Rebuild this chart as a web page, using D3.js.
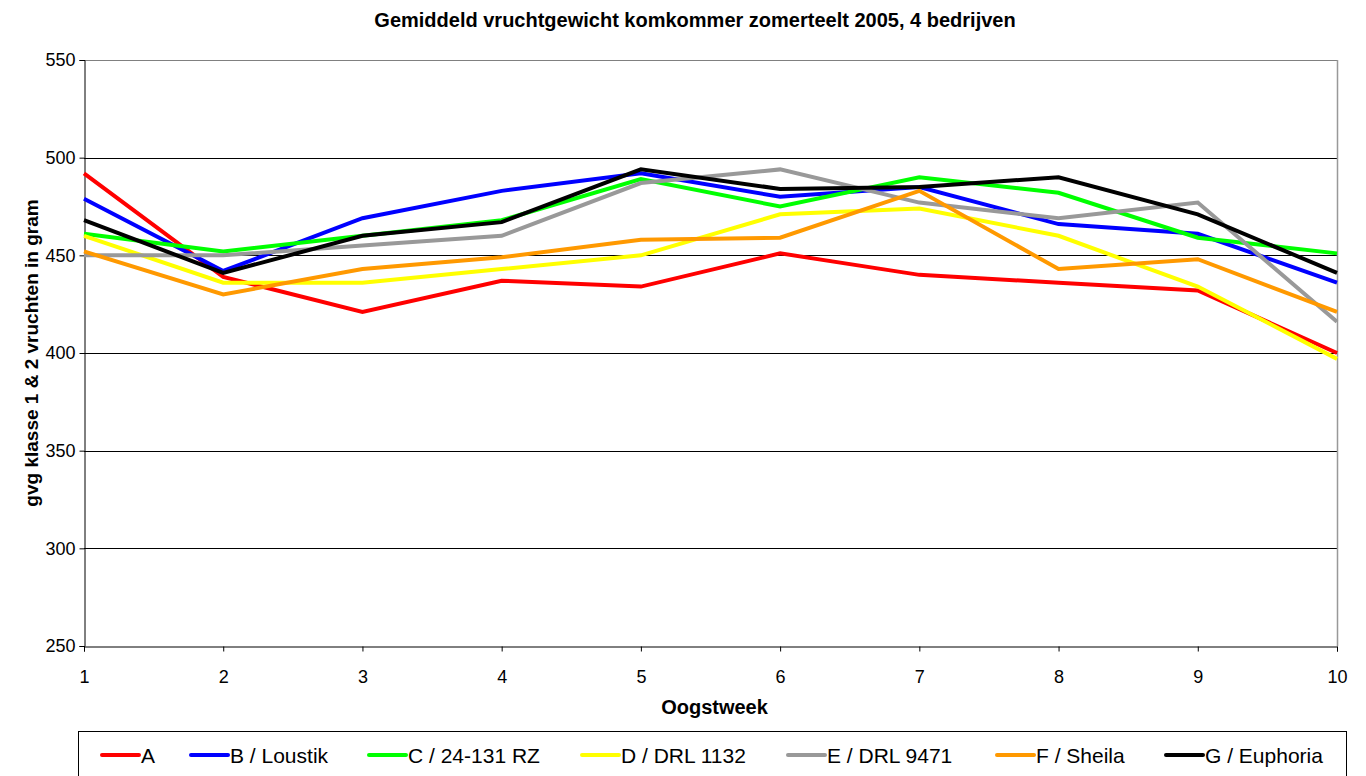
<!DOCTYPE html>
<html>
<head>
<meta charset="utf-8">
<script src="https://cdn.jsdelivr.net/npm/d3@7"></script>
<style>
  body { margin: 0; background: #fff; }
  text { font-family: "Liberation Sans", Arial, sans-serif; }
</style>
</head>
<body>
<div id="chart"></div>
<script>
// weeks and series values (gvg in gram)
var weeks = [1, 2, 3, 4, 5, 6, 7, 8, 9, 10];
var seriesNames = ["A", "B / Loustik", "C / 24-131 RZ", "D / DRL 1132", "E / DRL 9471", "F / Sheila", "G / Euphoria"];
var seriesColors = ["#ff0000", "#0000ff", "#00ff00", "#ffff00", "#999999", "#ff9900", "#000000"];
var valuesA = [492, 439, 421, 437, 434, 451, 440, 436, 432, 400];
var valuesB = [479, 442, 469, 483, 492, 480, 485, 466, 461, 436];
var valuesC = [461, 452, 460, 468, 489, 475, 490, 482, 459, 451];
var valuesD = [460, 436, 436, 443, 450, 471, 474, 460, 434, 397];
var valuesE = [450, 450, 455, 460, 487, 494, 477, 469, 477, 416];
var valuesF = [452, 430, 443, 449, 458, 459, 483, 443, 448, 421];
var valuesG = [468, 441, 460, 467, 494, 484, 485, 490, 471, 441];
var yTicks = [250, 300, 350, 400, 450, 500, 550];

var allValues = [valuesA, valuesB, valuesC, valuesD, valuesE, valuesF, valuesG];

var width = 1366, height = 776;
var margin = { top: 60, right: 29, bottom: 130, left: 84 };
var innerW = width - margin.left - margin.right,
    innerH = height - margin.top - margin.bottom;

var svg = d3.select("#chart").append("svg")
    .attr("width", width)
    .attr("height", height);

var x = d3.scaleLinear().domain([1, 10]).range([margin.left, margin.left + innerW]);
var y = d3.scaleLinear().domain([250, 550]).range([margin.top + innerH, margin.top]);

// title
svg.append("text")
    .attr("x", 695).attr("y", 27)
    .attr("text-anchor", "middle")
    .style("font-weight", "bold").style("font-size", "20px")
    .text("Gemiddeld vruchtgewicht komkommer zomerteelt 2005, 4 bedrijven");

// gridlines
svg.append("g")
    .selectAll("line")
    .data(yTicks.slice(1))
    .join("line")
    .attr("x1", margin.left).attr("x2", margin.left + innerW)
    .attr("y1", d => Math.round(y(d)) + 0.5).attr("y2", d => Math.round(y(d)) + 0.5)
    .attr("stroke", d => d === 550 ? "#808080" : "#000").attr("stroke-width", 1);

// plot border (right side gray)
svg.append("line")
    .attr("x1", margin.left + innerW + 0.5).attr("x2", margin.left + innerW + 0.5)
    .attr("y1", margin.top).attr("y2", margin.top + innerH)
    .attr("stroke", "#999").attr("stroke-width", 1.5);

// axes
var yAxis = svg.append("g")
    .attr("transform", "translate(" + (margin.left + 0.5) + ",0)")
    .call(d3.axisLeft(y).tickValues(yTicks).tickSize(5).tickPadding(4));
var xAxis = svg.append("g")
    .attr("transform", "translate(0," + (Math.round(margin.top + innerH) + 0.5) + ")")
    .call(d3.axisBottom(x).tickValues(weeks).tickSize(5).tickPadding(19).tickFormat(d3.format("d")));

[yAxis, xAxis].forEach(function (a) {
    a.select(".domain").attr("stroke", "#000");
    a.selectAll(".tick line").attr("stroke", "#000");
    a.selectAll(".tick text").style("font-size", "18px").attr("fill", "#000")
        .style("font-family", "'Liberation Sans', Arial, sans-serif");
});

// axis titles
svg.append("text")
    .attr("transform", "translate(38," + (margin.top + innerH / 2) + ") rotate(-90)")
    .attr("text-anchor", "middle")
    .style("font-weight", "bold").style("font-size", "19px")
    .text("gvg klasse 1 & 2 vruchten in gram");

svg.append("text")
    .attr("x", margin.left + innerW / 2 + 4).attr("y", 714)
    .attr("text-anchor", "middle")
    .style("font-weight", "bold").style("font-size", "20px")
    .text("Oogstweek");

// lines
var line = d3.line()
    .x((d, i) => x(weeks[i]))
    .y(d => y(d));

svg.append("g")
    .selectAll("path")
    .data(allValues)
    .join("path")
    .attr("fill", "none")
    .attr("stroke", (d, i) => seriesColors[i])
    .attr("stroke-width", 4)
    .attr("stroke-linejoin", "miter")
    .attr("d", line);

// legend
var legendX = [102, 191, 369, 582, 788, 997, 1166];
var legend = svg.append("g");
legend.append("rect")
    .attr("x", 78.5).attr("y", 731.5)
    .attr("width", 1268).attr("height", 60)
    .attr("fill", "#fff").attr("stroke", "#000");

var items = legend.selectAll("g.item")
    .data(seriesNames)
    .join("g")
    .attr("class", "item")
    .attr("transform", (d, i) => "translate(" + legendX[i] + ",755)");
items.append("line")
    .attr("x1", 0).attr("x2", 37)
    .attr("stroke", (d, i) => seriesColors[i])
    .attr("stroke-width", 4).attr("stroke-linecap", "round");
items.append("text")
    .attr("x", 39).attr("y", 7.5)
    .style("font-size", "21px")
    .text(d => d);
</script>
</body>
</html>
